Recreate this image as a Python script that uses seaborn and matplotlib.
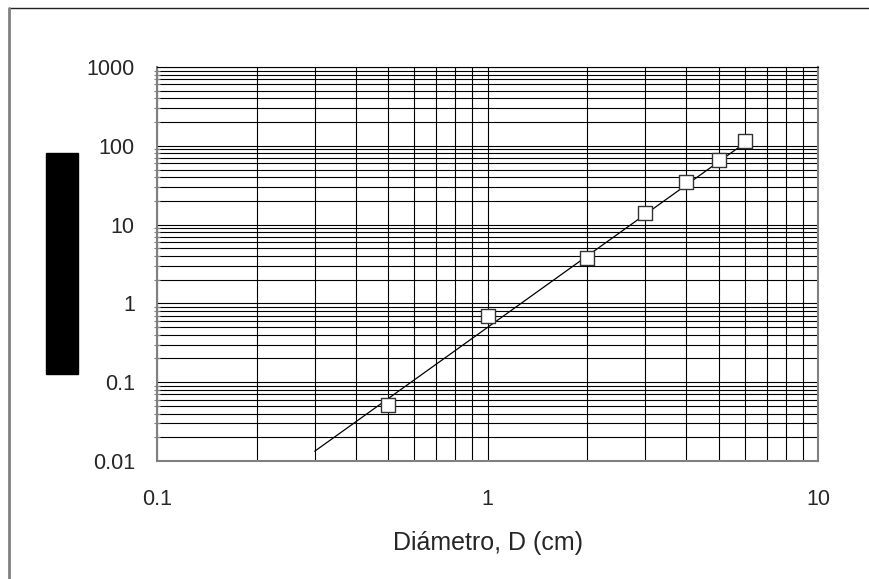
import matplotlib
matplotlib.use("Agg")
import matplotlib.pyplot as plt
from matplotlib.ticker import LogLocator, NullFormatter, FixedLocator, FixedFormatter
from matplotlib.patches import Rectangle
from matplotlib.lines import Line2D
import pandas as pd
import seaborn as sns

# measured points (diameter in cm)
diametro = [0.5, 1, 2, 3, 4, 5, 6]
valores = [0.051, 0.70, 3.8, 13.9, 35, 66, 114]

# fitted trend line, end points
ajuste_x = [0.3, 6]
ajuste_y = [0.0133, 108]

x_ticks = [0.1, 1, 10]
x_labels = ["0.1", "1", "10"]
y_ticks = [0.01, 0.1, 1, 10, 100, 1000]
y_labels = ["0.01", "0.1", "1", "10", "100", "1000"]

sns.set_style("white")
plt.rcParams['font.family'] = ['Liberation Sans', 'DejaVu Sans']

fig = plt.figure(figsize=(8.69, 5.79), dpi=100)
ax = fig.add_axes([0.1807, 0.2038, 0.7606, 0.6805])

puntos = pd.DataFrame({"D": diametro, "V": valores})
ajuste = pd.DataFrame({"D": ajuste_x, "V": ajuste_y})

ax.set_xscale("log")
ax.set_yscale("log")
ax.set_xlim(0.1, 10)
ax.set_ylim(0.01, 1000)

sns.lineplot(data=ajuste, x="D", y="V", color="black", linewidth=0.9, ax=ax, zorder=3)
sns.scatterplot(data=puntos, x="D", y="V", marker="s", s=95, color="white",
                edgecolor="#333333", linewidth=1.0, ax=ax, zorder=4, clip_on=False)

ax.xaxis.set_major_locator(FixedLocator(x_ticks))
ax.xaxis.set_major_formatter(FixedFormatter(x_labels))
ax.yaxis.set_major_locator(FixedLocator(y_ticks))
ax.yaxis.set_major_formatter(FixedFormatter(y_labels))
ax.xaxis.set_minor_locator(LogLocator(base=10, subs=range(2, 10)))
ax.yaxis.set_minor_locator(LogLocator(base=10, subs=range(2, 10)))
ax.xaxis.set_minor_formatter(NullFormatter())
ax.yaxis.set_minor_formatter(NullFormatter())

ax.grid(True, which="both", color="black", linewidth=0.8)
ax.set_axisbelow(True)

ax.tick_params(axis="y", which="major", direction="out", length=5, width=1,
               color="#808080", pad=11, labelsize=15.5)
ax.tick_params(axis="y", which="minor", direction="inout", length=4, width=0.8,
               color="#808080", left=True)
ax.tick_params(axis="x", which="major", direction="out", length=4, width=1,
               color="#808080", pad=16, labelsize=15.5)
ax.tick_params(axis="x", which="minor", bottom=False)

for side in ["left", "bottom", "right"]:
    ax.spines[side].set_color("#808080")
    ax.spines[side].set_linewidth(1.5)
ax.spines["top"].set_color("black")
ax.spines["top"].set_linewidth(0.8)

ax.set_xlabel("Diámetro, D (cm)", fontsize=18, labelpad=15)
ax.set_ylabel("")

# outer chart frame (top and left edges) and the black block on the left
fig.add_artist(Line2D([9 / 869, 1.0], [1 - 8 / 579, 1 - 8 / 579],
                      transform=fig.transFigure, color="#222222", linewidth=1.0))
fig.add_artist(Line2D([9 / 869, 9 / 869], [0.0, 1 - 8 / 579],
                      transform=fig.transFigure, color="#808080", linewidth=2.0))
fig.add_artist(Rectangle((46 / 869, 1 - 374 / 579), 32 / 869, 221 / 579,
                         transform=fig.transFigure, color="black"))

fig.savefig("out.png", dpi=100)
